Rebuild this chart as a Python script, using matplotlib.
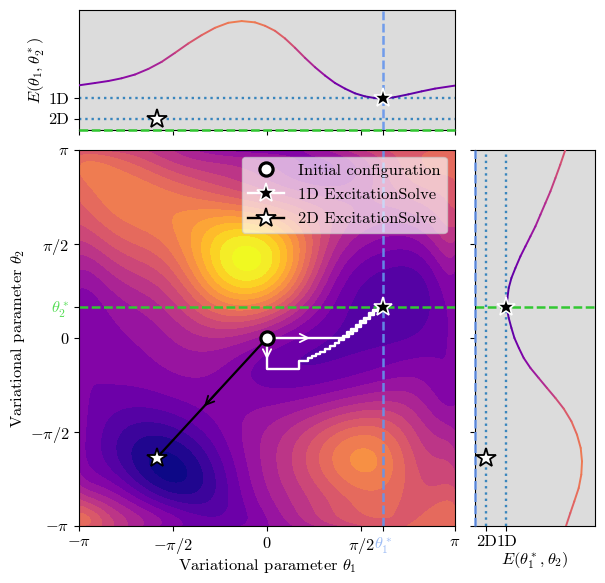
import numpy as np
import matplotlib
matplotlib.use('Agg')
import matplotlib.pyplot as plt
from numpy.polynomial import chebyshev as cheb
from matplotlib.collections import LineCollection
from matplotlib.lines import Line2D

plt.rcParams['font.family'] = ['cmr10', 'DejaVu Serif']
plt.rcParams['mathtext.fontset'] = 'cm'
plt.rcParams['axes.formatter.use_mathtext'] = True
plt.rcParams['axes.unicode_minus'] = False

# energy landscape, on a coarse grid, top row first (theta2 = pi)
landscape = [
    [49, 51, 49, 46, 41, 35, 29, 26, 25, 27, 32, 38, 46, 52, 56, 58, 57],
    [64, 67, 65, 60, 54, 49, 45, 42, 38, 34, 31, 31, 36, 47, 53, 58, 60],
    [60, 66, 69, 68, 66, 65, 63, 60, 52, 46, 40, 38, 40, 42, 47, 51, 55],
    [53, 59, 64, 68, 71, 72, 74, 76, 70, 70, 56, 47, 41, 36, 38, 43, 50],
    [46, 52, 57, 62, 69, 80, 94, 105, 92, 74, 54, 40, 30, 24, 27, 32, 39],
    [36, 40, 46, 52, 62, 73, 91, 110, 97, 76, 52, 34, 21.5, 16, 19, 24, 30],
    [29, 33, 38, 43, 50, 62, 72, 80, 74, 60, 43, 28, 17, 14, 14.5, 18, 25],
    [25, 28, 31, 37, 43, 50, 60, 66, 56, 42, 28, 20.5, 15.5, 13, 14, 18, 24],
    [26, 26, 30, 33, 37, 40, 41, 37, 31, 25, 20.5, 16, 14.5, 15, 17, 20.5, 24],
    [26, 25, 26, 28, 30, 32, 31, 27, 20, 16.5, 15, 17.5, 19, 23.5, 24.5, 25, 25],
    [26, 24, 23, 24.5, 25, 28, 28, 25, 23, 26, 27, 28, 30, 33, 31, 28, 27],
    [26, 20, 18, 18, 20, 23, 26, 27, 29, 31, 35, 39, 43, 46, 41, 34, 30],
    [26, 17, 11, 8, 11, 16, 22, 30, 36, 42, 50, 58, 62, 60, 50, 41, 36],
    [27, 18, 8, -3, -3, 7, 18, 29, 39, 47, 56, 67, 74, 67, 56, 47, 41],
    [32, 24, 15, 6, 0, 3, 13, 25, 36, 44, 53, 62, 68, 65, 58, 51, 50],
    [50, 41, 31, 21, 13, 10, 15, 24, 33, 40, 48, 56, 61, 60, 58, 57, 57],
    [58, 52, 42, 32, 26, 21, 21, 23, 30, 34, 40, 46, 52, 56, 59, 60, 60],
]

# E(theta1, theta2*) for the top panel
top_theta1 = [-3.142, -2.874, -2.65, -2.428, -2.206, -1.983, -1.761, -1.537, -1.315, -1.092,
              -0.869, -0.647, -0.423, -0.201, -0.033, 0.134, 0.301, 0.468, 0.635, 0.802,
              0.969, 1.136, 1.303, 1.471, 1.638, 1.805, 1.944, 2.139, 2.362, 2.585, 2.807, 3.142]
top_energy = [0.231, 0.247, 0.261, 0.28, 0.306, 0.345, 0.394, 0.457, 0.522, 0.58,
              0.631, 0.666, 0.678, 0.669, 0.645, 0.61, 0.557, 0.492, 0.422, 0.357,
              0.299, 0.247, 0.208, 0.175, 0.154, 0.142, 0.138, 0.149, 0.168, 0.189, 0.208, 0.229]

# E(theta1*, theta2) for the right panel
right_theta2 = [3.142, 2.897, 2.674, 2.451, 2.256, 2.061, 1.866, 1.699, 1.532, 1.365, 1.17, 1.003,
                0.836, 0.669, 0.518, 0.334, 0.167, 0, -0.167, -0.334, -0.501, -0.669, -0.836,
                -1.003, -1.181, -1.393, -1.616, -1.838, -2.061, -2.284, -2.507, -2.73, -2.925, -3.142]
right_energy = [0.552, 0.517, 0.483, 0.448, 0.413, 0.378, 0.343, 0.308, 0.273, 0.238, 0.203, 0.175,
                0.156, 0.147, 0.142, 0.156, 0.175, 0.196, 0.227, 0.261, 0.308, 0.366, 0.424,
                0.483, 0.541, 0.595, 0.634, 0.66, 0.669, 0.664, 0.646, 0.615, 0.587, 0.557]

# optimisation paths
path_a_x = [0, 0, 0.535, 0.535, 0.685, 0.685, 0.752, 0.752, 0.819, 0.819, 0.886, 0.886, 0.969, 0.969,
            1.053, 1.053, 1.136, 1.136, 1.203, 1.203, 1.287, 1.287, 1.370, 1.370, 1.437, 1.437,
            1.504, 1.504, 1.571, 1.571, 1.654, 1.654, 1.721, 1.721, 1.788, 1.788, 1.855, 1.855, 1.94]
path_a_y = [0, -0.518, -0.518, -0.384, -0.384, -0.334, -0.334, -0.301, -0.301, -0.267, -0.267, -0.234,
            -0.234, -0.184, -0.184, -0.134, -0.134, -0.084, -0.084, -0.033, -0.033, 0.017, 0.017, 0.067,
            0.067, 0.117, 0.117, 0.184, 0.184, 0.251, 0.251, 0.318, 0.318, 0.384, 0.384, 0.451,
            0.451, 0.501, 0.518]
path_b_x = [0, 1.27, 1.27, 1.337, 1.337, 1.404, 1.404, 1.487, 1.487, 1.554, 1.554, 1.621, 1.621,
            1.705, 1.705, 1.771, 1.771, 1.855, 1.855, 1.94]
path_b_y = [0, 0, 0.033, 0.033, 0.1, 0.1, 0.15, 0.15, 0.217, 0.217, 0.284, 0.284, 0.334,
            0.334, 0.418, 0.418, 0.468, 0.468, 0.518, 0.518]

theta1_star = 1.94
theta2_star = 0.518
theta_2d = (-1.84, -2.0)
e_1d = 0.14
e_2d = 0.0
e_min = -0.08

ticks = [-np.pi, -np.pi / 2, 0, np.pi / 2, np.pi]
tick_names = [r'$-\pi$', r'$-\pi/2$', r'$0$', r'$\pi/2$', r'$\pi$']
fs = 11.8
blue = '#6495ed'
green = '#32c832'
dots = '#3a86bd'
dashed = (0, (3.5, 1.4))

W, H = 605, 583


def box(x0, x1, y0, y1):
    return [x0 / W, 1 - y1 / H, (x1 - x0) / W, (y1 - y0) / H]


fig = plt.figure(figsize=(6.05, 5.83), dpi=100)
ax = fig.add_axes(box(79, 455, 150, 526))
ax_top = fig.add_axes(box(79, 455, 10, 130))
ax_right = fig.add_axes(box(475, 595, 150, 526))

# main landscape: smooth surface through the grid readings
z = np.array(landscape, dtype=float)[::-1] / 100
grid_t = np.linspace(-np.pi, np.pi, z.shape[0])
tx, ty = np.meshgrid(grid_t, grid_t)
deg = [10, 10]
vand = cheb.chebvander2d(tx.ravel() / np.pi, ty.ravel() / np.pi, deg)
coef = np.linalg.lstsq(vand, z.ravel(), rcond=None)[0].reshape(deg[0] + 1, deg[1] + 1)
fine_t = np.linspace(-np.pi, np.pi, 300)
fx, fy = np.meshgrid(fine_t, fine_t)
z_fine = cheb.chebval2d(fx / np.pi, fy / np.pi, coef)
levels = np.linspace(0, 1, 18)
norm = plt.Normalize(0, 1)
ax.contourf(fx, fy, z_fine, levels=levels, cmap='plasma', norm=norm, extend='both')

ax.axvline(theta1_star, color=blue, alpha=0.9, ls=dashed, lw=1.8, zorder=2)
ax.axhline(theta2_star, color=green, ls=dashed, lw=1.8, zorder=2)

ax.plot(path_a_x, path_a_y, color='white', lw=1.7, zorder=3)
ax.plot(path_b_x, path_b_y, color='white', lw=1.7, zorder=3)
ax.plot([0, theta_2d[0]], [0, theta_2d[1]], color='black', lw=1.6, zorder=3)

arrow_w = dict(arrowstyle='->', color='white', lw=1.3, mutation_scale=15, shrinkA=0, shrinkB=0)
arrow_k = dict(arrowstyle='->', color='black', lw=1.3, mutation_scale=15, shrinkA=0, shrinkB=0)
ax.annotate('', xy=(0.72, 0), xytext=(0.4, 0), arrowprops=arrow_w, zorder=4)
ax.annotate('', xy=(0, -0.36), xytext=(0, -0.15), arrowprops=arrow_w, zorder=4)
ax.annotate('', xy=(-1.05, -1.14), xytext=(-0.8, -0.87), arrowprops=arrow_k, zorder=4)

star_1d = dict(marker='*', ms=14, mfc='black', mec='white', mew=1.2, ls='none', zorder=6)
star_2d = dict(marker='*', ms=14.5, mfc='white', mec='black', mew=1.3, ls='none', zorder=6)
ax.plot(0, 0, marker='o', ms=9.5, mfc='white', mec='black', mew=2.3, ls='none', zorder=6)
ax.plot(theta1_star, theta2_star, **star_1d)
ax.plot(*theta_2d, **star_2d)

ax.set_xlim(-np.pi, np.pi)
ax.set_ylim(-np.pi, np.pi)
ax.set_xticks(ticks + [theta1_star])
ax.set_xticklabels(tick_names + [r'$\theta_1^*$'], fontsize=fs)
ax.set_yticks(ticks + [theta2_star])
ax.set_yticklabels(tick_names + [r'$\theta_2^*$'], fontsize=fs)
ax.get_xticklabels()[-1].set_color('#9dbcf5')
ax.get_yticklabels()[-1].set_color('#55dd55')
ax.set_xlabel(r'Variational parameter $\theta_1$', fontsize=fs, labelpad=1)
ax.set_ylabel(r'Variational parameter $\theta_2$', fontsize=fs, labelpad=2)

handles = [
    Line2D([], [], marker='o', ms=9.5, mfc='white', mec='black', mew=2.3, ls='none'),
    Line2D([], [], marker='*', ms=14, mfc='black', mec='white', mew=1.2, color='white', lw=1.7),
    Line2D([], [], marker='*', ms=14.5, mfc='white', mec='black', mew=1.3, color='black', lw=1.7),
]
leg = ax.legend(handles, ['Initial configuration', '1D ExcitationSolve', '2D ExcitationSolve'],
                loc='upper right', bbox_to_anchor=(0.978, 0.982), borderaxespad=0,
                fontsize=fs, framealpha=0.65, edgecolor='#cccccc', handlelength=2.2, labelspacing=0.6)
leg.set_zorder(5)


def colored_line(axis, xs, ys, values):
    pts = np.column_stack([xs, ys])
    segs = np.stack([pts[:-1], pts[1:]], axis=1)
    vals = np.array(values)
    lc = LineCollection(segs, cmap='plasma', norm=norm, lw=1.4, zorder=3, capstyle='round')
    lc.set_array((vals[:-1] + vals[1:]) / 2)
    axis.add_collection(lc)


# top panel
ax_top.set_facecolor('gainsboro')
colored_line(ax_top, top_theta1, top_energy, top_energy)
ax_top.axvline(theta1_star, color=blue, alpha=0.9, ls=dashed, lw=1.8, zorder=2)
ax_top.axhline(e_min, color=green, ls=dashed, lw=1.8, zorder=3, clip_on=False)
ax_top.axhline(e_1d, color=dots, ls=':', lw=1.7, zorder=2)
ax_top.axhline(e_2d, color=dots, ls=':', lw=1.7, zorder=2)
ax_top.plot(theta1_star, e_1d, **star_1d)
ax_top.plot(theta_2d[0], e_2d, **star_2d)
ax_top.set_xlim(-np.pi, np.pi)
ax_top.set_ylim(e_min, 0.755)
ax_top.set_xticks(ticks + [theta1_star])
ax_top.set_xticklabels([])
ax_top.set_yticks([e_2d, e_1d])
ax_top.set_yticklabels(['2D', '1D'], fontsize=fs)
ax_top.set_ylabel(r'$E(\theta_1, \theta_2^*)$', fontsize=fs, labelpad=1)

# right panel
ax_right.set_facecolor('gainsboro')
colored_line(ax_right, right_energy, right_theta2, right_energy)
ax_right.axhline(theta2_star, color=green, ls=dashed, lw=1.8, zorder=2)
ax_right.axvline(e_min, color=blue, alpha=0.9, ls=dashed, lw=1.8, zorder=3, clip_on=False)
ax_right.axvline(e_1d, color=dots, ls=':', lw=1.7, zorder=2)
ax_right.axvline(e_2d, color=dots, ls=':', lw=1.7, zorder=2)
ax_right.plot(e_1d, theta2_star, **star_1d)
ax_right.plot(e_2d, theta_2d[1], **star_2d)
ax_right.set_ylim(-np.pi, np.pi)
ax_right.set_xlim(e_min, 0.76)
ax_right.set_yticks(ticks)
ax_right.set_yticklabels([])
ax_right.set_xticks([e_2d, e_1d])
ax_right.set_xticklabels(['2D', '1D'], fontsize=fs)
ax_right.set_xlabel(r'$E(\theta_1^*, \theta_2)$', fontsize=fs, labelpad=1)

fig.savefig('out.png', dpi=100)
